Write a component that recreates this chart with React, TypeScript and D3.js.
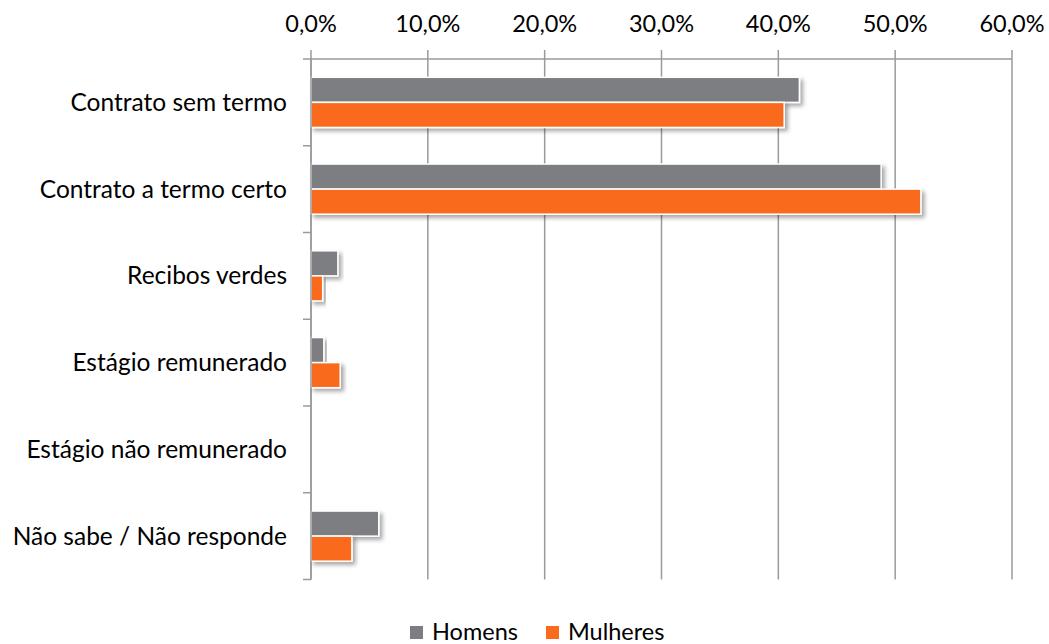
import React from "react";
import * as d3 from "d3";

const categories = [
  "Contrato sem termo",
  "Contrato a termo certo",
  "Recibos verdes",
  "Estágio remunerado",
  "Estágio não remunerado",
  "Não sabe / Não responde",
];
const homens = [41.8, 48.8, 2.3, 1.1, 0, 5.8];
const mulheres = [40.5, 52.2, 1.0, 2.5, 0, 3.5];
const seriesNames = ["Homens", "Mulheres"];
const seriesColors = ["#7d7e82", "#fa6b1d"];
const xTicks = [0, 10, 20, 30, 40, 50, 60];

const W = 1049;
const H = 644;
const left = 311;
const right = 1012;
const top = 59;
const bottom = 579.5;
const font = "Lato, sans-serif";
const fs = 23.5;
const catFs = 24.5;

export default function App() {
  const x = d3.scaleLinear().domain([0, 60]).range([left, right]);
  const y = d3.scaleBand<string>().domain(categories).range([top, bottom]).paddingInner(0).paddingOuter(0);
  const inner = d3.scaleBand<string>().domain(seriesNames).range([0, y.bandwidth()]).paddingInner(0).paddingOuter(0.73);
  const fmt = (v: number) => d3.format(".1f")(v).replace(".", ",") + "%";
  const data = [homens, mulheres];
  const boundaries = categories.map((c) => y(c)!).concat([bottom]);

  return (
    <svg width={W} height={H} style={{ position: "absolute", left: 0, top: 0, background: "#fff" }}>
      <defs>
        <filter id="sh" x="-10%" y="-30%" width="130%" height="180%">
          <feGaussianBlur in="SourceAlpha" stdDeviation="2" />
          <feOffset dx="2.5" dy="3" result="b" />
          <feComponentTransfer>
            <feFuncA type="linear" slope="0.35" />
          </feComponentTransfer>
          <feMerge>
            <feMergeNode />
            <feMergeNode in="SourceGraphic" />
          </feMerge>
        </filter>
      </defs>
      {xTicks.map((t) => (
        <g key={t}>
          <line x1={x(t)} x2={x(t)} y1={50} y2={bottom} stroke="#9a9a9a" strokeWidth={1.5} />
          <text x={x(t)} y={32} textAnchor="middle" fontFamily={font} fontSize={fs} fill="#000">
            {fmt(t)}
          </text>
        </g>
      ))}
      <line x1={303} x2={right} y1={top} y2={top} stroke="#9a9a9a" strokeWidth={1.5} />
      {boundaries.slice(1).map((b, i) => (
        <line key={i} x1={303} x2={left} y1={b} y2={b} stroke="#9a9a9a" strokeWidth={1.5} />
      ))}
      {categories.map((c, i) => (
        <g key={c}>
          {data.map((s, j) =>
            s[i] > 0 ? (
              <rect
                key={j}
                x={x(0)}
                y={y(c)! + inner(seriesNames[j])!}
                width={x(s[i]) - x(0)}
                height={inner.bandwidth()}
                fill={seriesColors[j]}
                stroke="#fff"
                strokeWidth={1.5}
                filter="url(#sh)"
              />
            ) : null
          )}
          <text x={287} y={y(c)! + y.bandwidth() / 2} dy="0.35em" textAnchor="end" fontFamily={font} fontSize={catFs} fill="#000">
            {c}
          </text>
        </g>
      ))}
      <line x1={left} x2={left} y1={top} y2={bottom} stroke="#9a9a9a" strokeWidth={1.5} />
      <g>
        {seriesNames.map((n, j) => {
          const lx = j === 0 ? 410 : 546;
          return (
            <g key={n}>
              <rect x={lx} y={626} width={13} height={13} fill={seriesColors[j]} />
              <text x={lx + 22} y={640} fontFamily={font} fontSize={fs} fill="#000">
                {n}
              </text>
            </g>
          );
        })}
      </g>
    </svg>
  );
}
